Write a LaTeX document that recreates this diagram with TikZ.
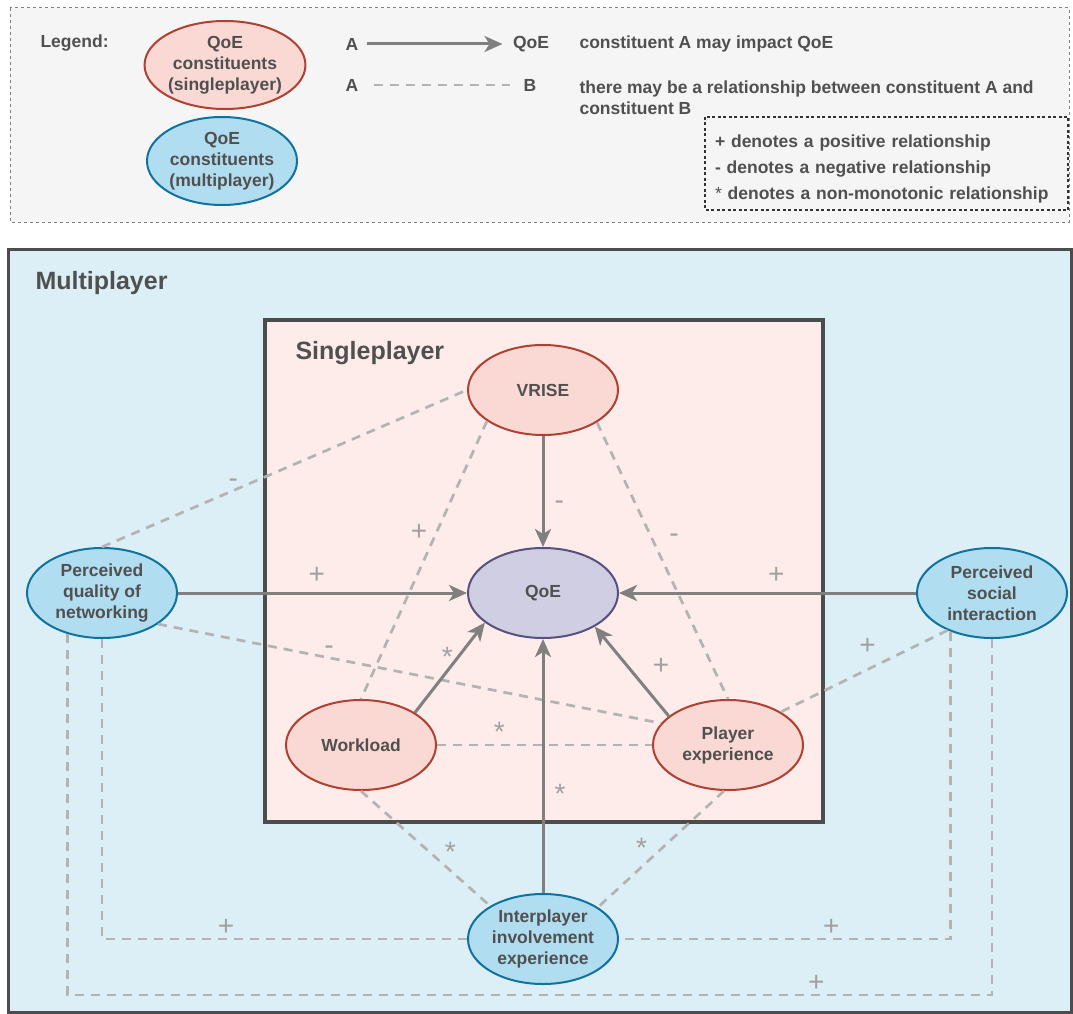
\documentclass[tikz,border=0pt]{standalone}
\usepackage{fontspec}
\setmainfont{Liberation Sans}
\usetikzlibrary{arrows.meta, positioning, shapes.geometric}

\definecolor{txtgray}{HTML}{505050}
\definecolor{redfill}{HTML}{FAD9D5}
\definecolor{redline}{HTML}{AE4132}
\definecolor{bluefill}{HTML}{B1DDF0}
\definecolor{blueline}{HTML}{10739E}
\definecolor{purplefill}{HTML}{D0CEE2}
\definecolor{purpleline}{HTML}{56517E}
\definecolor{arrowgray}{HTML}{808080}
\definecolor{dashgray}{HTML}{B3B3B3}
\definecolor{signgray}{HTML}{A0A0A0}
\definecolor{multifill}{HTML}{DCEEF6}
\definecolor{singlefill}{HTML}{FDECE9}
\definecolor{legendfill}{HTML}{F5F5F5}

\begin{document}
\begin{tikzpicture}[
    x=1pt, y=-1pt,
    every node/.style={text=txtgray, font=\bfseries\fontsize{17.5}{21}\selectfont},
    constit/.style={ellipse, draw, line width=2pt, minimum width=150pt, minimum height=90pt, inner sep=0pt, align=center},
    single/.style={constit, draw=redline, fill=redfill},
    multi/.style={constit, draw=blueline, fill=bluefill},
    core/.style={constit, draw=purpleline, fill=purplefill},
    impact/.style={-{Stealth[length=18pt, width=16pt, inset=5pt]}, draw=arrowgray, line width=3pt},
    relation/.style={draw=dashgray, line width=2.7pt, dash pattern=on 9pt off 7pt},
    sign/.style={text=signgray, font=\fontsize{28}{28}\selectfont, inner sep=2pt}
]
\useasboundingbox (0,0) rectangle (1073,1014);

% Legenda
\filldraw[fill=legendfill, draw=gray, line width=1pt, dash pattern=on 3pt off 3pt] (10,8) rectangle (1069,222);
\node[anchor=west] (legtitle) at (37,43) {Legend:};
\node[single, minimum width=150pt, minimum height=88pt] (legsingle) at (225,65) {QoE\\constituents\\(singleplayer)};
\node[multi, minimum width=150pt, minimum height=88pt] (legmulti) at (222,161) {QoE\\constituents\\(multiplayer)};
\node (legA) at (352,44) {A};
\node (legQ) at (531,44) {QoE};
\node (legA2) at (352,85) {A};
\node (legB) at (530,85) {B};
\draw[impact, shorten <=5pt, shorten >=7pt] (legA) -- (legQ);
\draw[relation, shorten <=12pt, shorten >=10pt] (legA2) -- (legB);
\node[anchor=west] (legimpact) at (576,44) {constituent A may impact QoE};
\node[anchor=west, align=left] (legrelation) at (576,98) {there may be a relationship between constituent A and\\constituent B};
\draw[draw=black!80, line width=1.3pt, dash pattern=on 3pt off 2.5pt] (705,117) rectangle (1068,210);
\node[text width=343pt, align=left, font=\bfseries\fontsize{17.5}{26}\selectfont] (legsigns) at (886.5,168.5)
      {+ denotes a positive relationship\\- denotes a negative relationship\\\mdseries * \bfseries denotes a non-monotonic relationship};

% Caixas
\filldraw[fill=multifill, draw=black!70, line width=3pt] (8,249) rectangle (1071,1012);
\filldraw[fill=singlefill, draw=black!70, line width=3.5pt] (265,320) rectangle (823,822);
\node[anchor=west, font=\bfseries\fontsize{25}{30}\selectfont] (multititle) at (32,283) {Multiplayer};
\node[anchor=west, font=\bfseries\fontsize{25}{30}\selectfont] (singletitle) at (292,353) {Singleplayer};

% Constituintes
\node[single] (vrise) at (543,390) {VRISE};
\node[core] (qoe) at (543,593) {QoE};
\node[single] (work) at (361,745) {Workload};
\node[single] (pexp) at (728,745) {Player\\experience};
\node[multi] (pqn) at (102,593) {Perceived\\quality of\\networking};
\node[multi] (psi) at (992,593) {Perceived\\social\\interaction};
\node[multi] (inter) at (543,939) {Interplayer\\involvement\\experience};
\coordinate (loop) at (0,995);

% Relacoes (tracejado)
\draw[relation] (pqn.north) to node[sign, pos=.36, above] {-} (vrise.west);
\draw[relation] (vrise.209) to node[sign, pos=.40, left=6pt] {+} (work.north);
\draw[relation] (vrise.329) to node[sign, pos=.42, right=14pt] {-} (pexp.north);
\draw[relation] (pqn.331) to node[sign, pos=.34, above] {-} (pexp.162);
\draw[relation] (work.east) to node[sign, pos=.29, above] {*} (pexp.west);
\draw[relation] (psi.220) to node[sign, pos=.48, above=12pt] {+} (pexp.32);
\draw[relation] (work.south) to node[sign, pos=.53, right=12pt] {*} (inter.148);
\draw[relation] (pexp.265) to node[sign, pos=.49, left=12pt] {*} (inter.30);
\draw[relation] (pqn.south) |- node[sign, pos=.67, above] {+} (inter.west);
\draw[relation] (psi.223) |- node[sign, pos=.68, above] {+} (inter.east);
\draw[relation] (pqn.230) |- node[sign, pos=.905, above] {+} (loop -| psi.south) -- (psi.south);

% Impactos (setas)
\draw[impact] (vrise.south) to node[sign, pos=.62, right=8pt] {-} (qoe.north);
\draw[impact] (pqn.east) to node[sign, pos=.48, above=6pt] {+} (qoe.west);
\draw[impact] (psi.west) to node[sign, pos=.47, above=6pt] {+} (qoe.east);
\draw[impact] (work.31) to node[sign, pos=.62, left=2pt] {*} (qoe.207);
\draw[impact] (pexp.154) to node[sign, pos=.56, right=22pt] {+} (qoe.327);
\draw[impact] (inter.north) to node[sign, pos=.39, right=8pt] {*} (qoe.south);

\end{tikzpicture}
\end{document}
